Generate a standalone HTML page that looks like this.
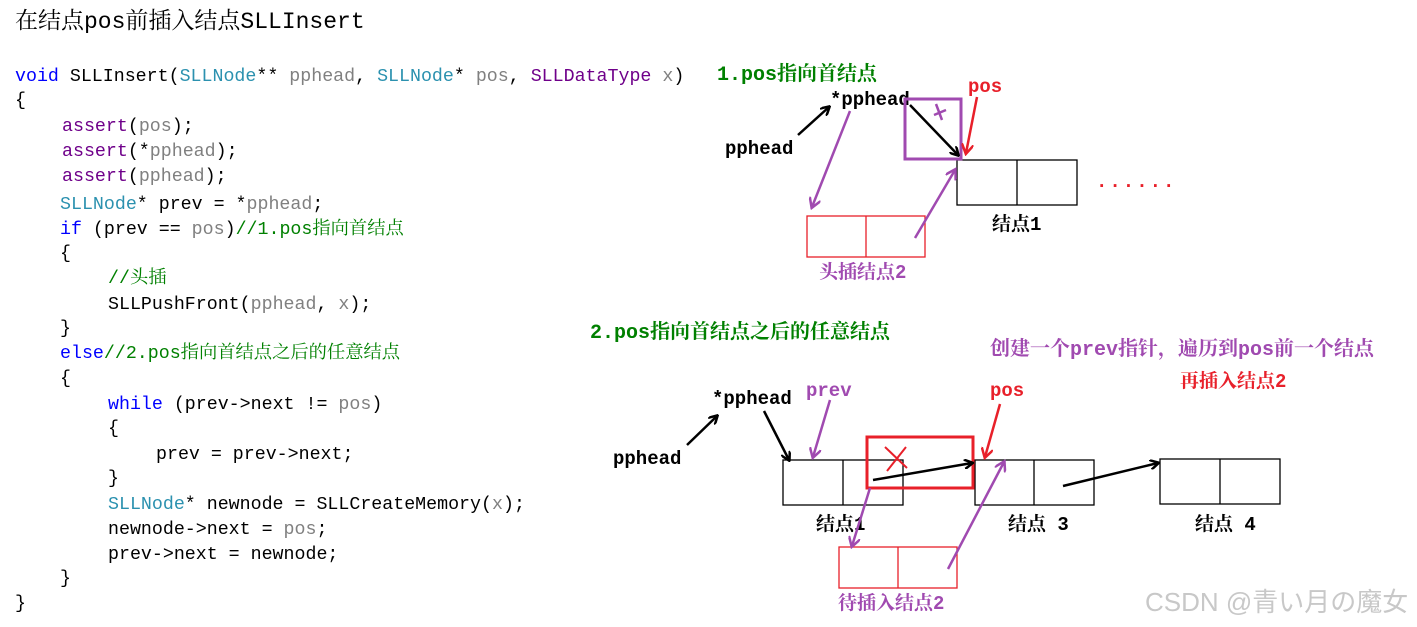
<!DOCTYPE html>
<html><head><meta charset="utf-8"><style>
html,body{margin:0;padding:0;background:#fff;}
svg{display:block}
.c{font-family:"Liberation Mono","Noto Serif CJK SC",monospace;font-size:18.3px;}
.d{font-family:"Liberation Mono","Noto Serif CJK SC",monospace;font-size:19px;font-weight:bold;}
.kw{fill:#0000ff}.ty{fill:#2b91af}.fn{fill:#74007f}.pa{fill:#808080}.cm{fill:#008000}.bk{fill:#000}.pu{fill:#6f008a}
</style></head><body>
<svg width="1417" height="627" xmlns="http://www.w3.org/2000/svg">
<defs>
<marker id="ab" markerWidth="10" markerHeight="10" refX="8" refY="5" orient="auto" markerUnits="userSpaceOnUse"><path d="M0,0 L9,5 L0,10" fill="none" stroke="#000" stroke-width="2.5"/></marker>
<marker id="ap" markerWidth="12" markerHeight="12" refX="9" refY="6" orient="auto" markerUnits="userSpaceOnUse"><path d="M0,0 L10,6 L0,12" fill="none" stroke="#a04ab0" stroke-width="2.5"/></marker>
<marker id="ar" markerWidth="12" markerHeight="12" refX="9" refY="6" orient="auto" markerUnits="userSpaceOnUse"><path d="M0,0 L10,6 L0,12" fill="none" stroke="#e8202a" stroke-width="2.5"/></marker>
</defs>
<text x="15" y="28" font-family="Liberation Mono,'Noto Serif CJK SC',monospace" font-size="23" fill="#000">在结点pos前插入结点SLLInsert</text>
<g class="c">
<text x="15" y="81"><tspan class="kw">void</tspan> SLLInsert(<tspan class="ty">SLLNode</tspan>** <tspan class="pa">pphead</tspan>, <tspan class="ty">SLLNode</tspan>* <tspan class="pa">pos</tspan>, <tspan class="pu">SLLDataType</tspan> <tspan class="pa">x</tspan>)</text>
<text x="15" y="105">{</text>
<text x="62" y="131"><tspan class="pu">assert</tspan>(<tspan class="pa">pos</tspan>);</text>
<text x="62" y="156"><tspan class="pu">assert</tspan>(*<tspan class="pa">pphead</tspan>);</text>
<text x="62" y="181"><tspan class="pu">assert</tspan>(<tspan class="pa">pphead</tspan>);</text>
<text x="60" y="209"><tspan class="ty">SLLNode</tspan>* prev = *<tspan class="pa">pphead</tspan>;</text>
<text x="60" y="234"><tspan class="kw">if</tspan> (prev == <tspan class="pa">pos</tspan>)<tspan class="cm">//1.pos指向首结点</tspan></text>
<text x="60" y="258">{</text>
<text x="108" y="283" class="cm">//头插</text>
<text x="108" y="309">SLLPushFront(<tspan class="pa">pphead</tspan>, <tspan class="pa">x</tspan>);</text>
<text x="60" y="333">}</text>
<text x="60" y="358"><tspan class="kw">else</tspan><tspan class="cm">//2.pos指向首结点之后的任意结点</tspan></text>
<text x="60" y="383">{</text>
<text x="108" y="409"><tspan class="kw">while</tspan> (prev-&gt;next != <tspan class="pa">pos</tspan>)</text>
<text x="108" y="433">{</text>
<text x="156" y="459">prev = prev-&gt;next;</text>
<text x="108" y="483">}</text>
<text x="108" y="509"><tspan class="ty">SLLNode</tspan>* newnode = SLLCreateMemory(<tspan class="pa">x</tspan>);</text>
<text x="108" y="534">newnode-&gt;next = <tspan class="pa">pos</tspan>;</text>
<text x="108" y="559">prev-&gt;next = newnode;</text>
<text x="60" y="583">}</text>
<text x="15" y="608">}</text>
</g>
<g class="d">
<text x="717" y="80" fill="#008000" font-size="20">1.pos指向首结点</text>
<text x="830" y="105" fill="#000">*pphead</text>
<text x="968" y="92" fill="#e8202a">pos</text>
<text x="725" y="154" fill="#000">pphead</text>
<text x="1096" y="187" fill="#e8202a" letter-spacing="2">......</text>
<text x="992" y="230" fill="#000">结点1</text>
<text x="819" y="278" fill="#a04ab0">头插结点2</text>
<text x="590" y="338" fill="#008000" font-size="20">2.pos指向首结点之后的任意结点</text>
<text x="990" y="355" fill="#a04ab0" font-size="20">创建一个prev指针，遍历到pos前一个结点</text>
<text x="1180" y="387" fill="#e8202a">再插入结点2</text>
<text x="712" y="404" fill="#000">*pphead</text>
<text x="806" y="396" fill="#a04ab0">prev</text>
<text x="990" y="396" fill="#e8202a">pos</text>
<text x="613" y="464" fill="#000">pphead</text>
<text x="816" y="530" fill="#000">结点1</text>
<text x="1008" y="530" fill="#000">结点 3</text>
<text x="1195" y="530" fill="#000">结点 4</text>
<text x="838" y="609" fill="#a04ab0">待插入结点2</text>
</g>
<g fill="none" stroke-width="1.3">
<rect x="957" y="160" width="120" height="45" stroke="#000"/><line x1="1017" y1="160" x2="1017" y2="205" stroke="#000"/>
<rect x="807" y="216" width="118" height="41" stroke="#e8202a"/><line x1="866" y1="216" x2="866" y2="257" stroke="#e8202a"/>
<rect x="783" y="460" width="120" height="45" stroke="#000"/><line x1="843" y1="460" x2="843" y2="505" stroke="#000"/>
<rect x="975" y="460" width="119" height="45" stroke="#000"/><line x1="1034" y1="460" x2="1034" y2="505" stroke="#000"/>
<rect x="1160" y="459" width="120" height="45" stroke="#000"/><line x1="1220" y1="459" x2="1220" y2="504" stroke="#000"/>
<rect x="839" y="547" width="118" height="41" stroke="#e8202a"/><line x1="898" y1="547" x2="898" y2="588" stroke="#e8202a"/>
</g>
<rect x="905" y="99" width="56" height="60" fill="none" stroke="#a04ab0" stroke-width="3"/>
<path d="M936,104 L942,120 M934,115 L946,110" stroke="#a04ab0" stroke-width="2.5"/>
<rect x="867" y="437" width="106" height="51" fill="none" stroke="#e8202a" stroke-width="3"/>
<path d="M885,447 L907,468 M906,447 L887,471" stroke="#e8202a" stroke-width="2"/>
<g stroke-width="2.5" fill="none">
<line x1="798" y1="135" x2="829" y2="107" stroke="#000" marker-end="url(#ab)"/>
<line x1="910" y1="105" x2="958" y2="155" stroke="#000" marker-end="url(#ab)"/>
<line x1="977" y1="97" x2="966" y2="153" stroke="#e8202a" marker-end="url(#ar)"/>
<line x1="850" y1="111" x2="812" y2="207" stroke="#a04ab0" marker-end="url(#ap)"/>
<line x1="915" y1="238" x2="955" y2="170" stroke="#a04ab0" marker-end="url(#ap)"/>
<line x1="687" y1="445" x2="717" y2="416" stroke="#000" marker-end="url(#ab)"/>
<line x1="764" y1="411" x2="789" y2="460" stroke="#000" marker-end="url(#ab)"/>
<line x1="830" y1="400" x2="813" y2="457" stroke="#a04ab0" marker-end="url(#ap)"/>
<line x1="1000" y1="404" x2="985" y2="457" stroke="#e8202a" marker-end="url(#ar)"/>
<line x1="873" y1="480" x2="972" y2="463" stroke="#000" marker-end="url(#ab)"/>
<line x1="1063" y1="486" x2="1158" y2="463" stroke="#000" marker-end="url(#ab)"/>
<line x1="870" y1="488" x2="852" y2="546" stroke="#a04ab0" marker-end="url(#ap)"/>
<line x1="948" y1="569" x2="1004" y2="462" stroke="#a04ab0" marker-end="url(#ap)"/>
</g>
<text x="1145" y="611" font-family="Liberation Sans,'Noto Sans CJK SC',sans-serif" font-size="26" fill="#c8c8c8">CSDN @青い月の魔女</text>
</svg>
</body></html>
